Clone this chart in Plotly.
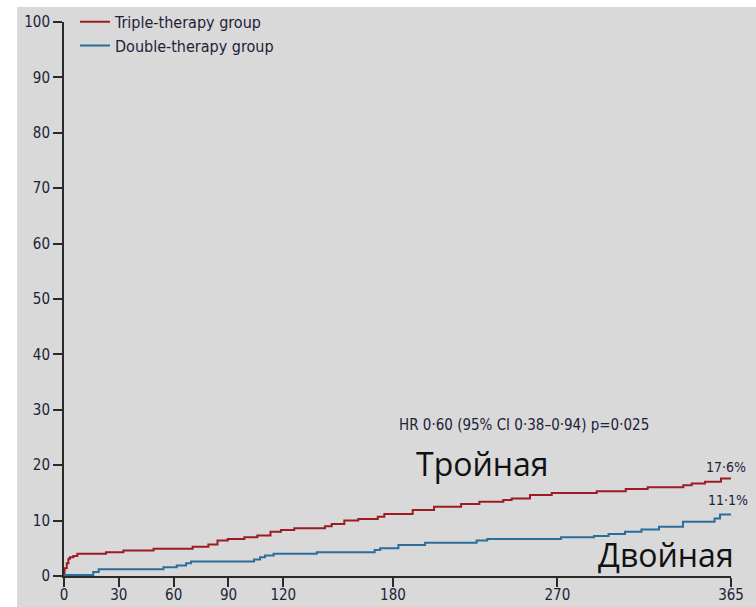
import plotly.graph_objects as go

# Cumulative event rate (%) by day, read as step functions
triple_days = [0, 0.3, 1.5, 2.4, 3.3, 5.1, 7.3, 23, 32.5, 49, 70.4, 79, 84, 89.6, 98.7,
               105.8, 113, 118.7, 126, 142.8, 146.5, 153.4, 161, 171.7, 175.3, 190.8,
               202.5, 217.3, 227.3, 240.4, 245, 255, 266.9, 291.5, 307.4, 319.4, 338.9,
               343.5, 350.8, 359.5, 365]
triple_pct = [0, 1.4, 2.3, 3.1, 3.4, 3.6, 4.0, 4.3, 4.6, 4.9, 5.3, 5.7, 6.4, 6.7, 7.0,
              7.3, 8.0, 8.3, 8.6, 9.0, 9.4, 10.0, 10.3, 10.7, 11.2, 11.9,
              12.5, 13.0, 13.4, 13.7, 14.0, 14.6, 15.0, 15.3, 15.7, 16.0, 16.4,
              16.7, 17.0, 17.6, 17.6]

double_days = [0, 16, 19, 54.4, 61.7, 66.8, 69.5, 104, 107.3, 110, 114.7, 138.3, 170,
               173, 183, 197.6, 225.8, 231.6, 272, 290, 298, 307, 316, 325.6, 338.7,
               356, 359, 365]
double_pct = [0.2, 0.7, 1.2, 1.6, 1.9, 2.3, 2.6, 3.0, 3.4, 3.7, 4.0, 4.3, 4.7,
              5.0, 5.6, 6.0, 6.4, 6.7, 7.0, 7.2, 7.6, 8.0, 8.4, 8.9, 9.8,
              10.4, 11.1, 11.1]

x_ticks = [0, 30, 60, 90, 120, 180, 270, 365]
y_ticks = list(range(0, 101, 10))

series_names = ["Triple-therapy group", "Double-therapy group"]
end_labels = ["17·6%", "11·1%"]
hr_text = "HR 0·60 (95% CI 0·38–0·94) p=0·025"
group_labels = ["Тройная", "Двойная"]

RED = "#9b1d22"
BLUE = "#2b6e9c"
INK = "#1c2238"
BG = "#d9d9d9"
NARROW = "Liberation Sans Narrow, DejaVu Sans Condensed, Arial Narrow, sans-serif"

W, H = 756, 607
ML, MR, MT, MB = 64, 25, 22, 31
pw, ph = W - ML - MR, H - MT - MB

fig = go.Figure()
fig.add_trace(go.Scatter(x=triple_days, y=triple_pct, mode="lines", line_shape="hv",
                         line=dict(color=RED, width=2), name=series_names[0]))
fig.add_trace(go.Scatter(x=double_days, y=double_pct, mode="lines", line_shape="hv",
                         line=dict(color=BLUE, width=2), name=series_names[1]))

# grey panel, leaving a thin white border along the top and left edges
fig.add_shape(type="rect", xref="paper", yref="paper", layer="below",
              x0=(17 - ML) / pw, x1=(W - ML) / pw,
              y0=-MB / ph, y1=(ph + MT - 7) / ph,
              fillcolor=BG, line_width=0)

annotations = [
    dict(x=251.5, y=27.3, text=hr_text, font=dict(family=NARROW, size=15, color=INK)),
    dict(x=229, y=20.3, text=group_labels[0], font=dict(family="Open Sans", size=32, color="#111111")),
    dict(x=329.5, y=3.9, text=group_labels[1], font=dict(family="Open Sans", size=32, color="#111111")),
    dict(x=362, y=19.7, text=end_labels[0], font=dict(family=NARROW, size=14, color=INK)),
    dict(x=363.3, y=13.7, text=end_labels[1], font=dict(family=NARROW, size=14, color=INK)),
]
for a in annotations:
    a.update(xref="x", yref="y", showarrow=False, xanchor="center", yanchor="middle")

axis_common = dict(showline=True, linecolor="#2a2a2a", linewidth=2, ticks="outside",
                   ticklen=9, tickwidth=2, tickcolor="#2a2a2a", showgrid=False, zeroline=False,
                   automargin=False, tickfont=dict(family=NARROW, size=15, color=INK))

fig.update_layout(
    width=W, height=H,
    margin=dict(l=ML, r=MR, t=MT, b=MB, autoexpand=False),
    paper_bgcolor="white", plot_bgcolor=BG,
    xaxis=dict(range=[0, 365], tickvals=x_ticks, ticklabelstandoff=-5, **axis_common),
    yaxis=dict(range=[0, 100], tickvals=y_ticks, **axis_common),
    legend=dict(x=0.0165, y=1.031, xanchor="left", yanchor="top", bgcolor="rgba(0,0,0,0)",
                font=dict(family=NARROW, size=16, color=INK), tracegroupgap=0),
    annotations=annotations,
)

fig.write_html("out.html")
